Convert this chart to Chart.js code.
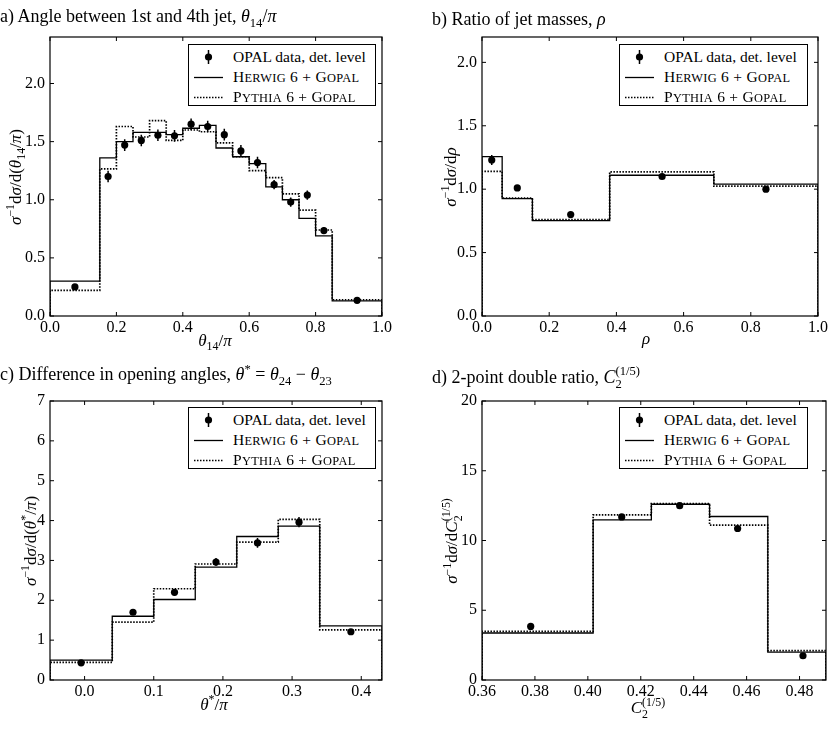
<!DOCTYPE html>
<html><head><meta charset="utf-8">
<script src="https://cdn.jsdelivr.net/npm/chart.js@4.4.1/dist/chart.umd.min.js"></script>
<style>
body{margin:0;background:#fff;}
#wrap{position:relative;width:830px;height:756px;overflow:hidden;font-family:"Liberation Serif",serif;color:#000;}
canvas{position:absolute;}
.t{position:absolute;white-space:nowrap;font-size:18px;line-height:18px;transform:translateY(-50%);}
.xl{position:absolute;white-space:nowrap;font-size:17px;line-height:20px;transform:translate(-50%,-50%);}
.yl{position:absolute;white-space:nowrap;font-size:17px;line-height:20px;transform:translate(-50%,-50%) rotate(-90deg);}
.leg{position:absolute;border:1.2px solid #000;background:#fff;box-sizing:border-box;font-size:15.5px;}
.row{position:absolute;left:0;width:100%;height:20px;line-height:20px;}
.row svg{position:absolute;left:0;top:0;}
.row span{position:absolute;left:44px;white-space:nowrap;}
.row span.sc{letter-spacing:0.3px;}
.row span.sc small{font-size:0.8em;text-transform:uppercase;}
sub,sup{font-size:0.7em;line-height:0;}
.ss{display:inline-block;vertical-align:-0.38em;line-height:1;font-size:0.7em;}
.ss span{display:block;}
</style>
</head><body>
<div id="wrap">
<canvas id="ca" width="415" height="378" style="left:0;top:0"></canvas>
<canvas id="cb" width="415" height="378" style="left:415px;top:0"></canvas>
<canvas id="cc" width="415" height="378" style="left:0;top:378px"></canvas>
<canvas id="cd" width="415" height="378" style="left:415px;top:378px"></canvas>

<div class="t" style="left:0;top:16px">a) Angle between 1st and 4th jet, <i>θ</i><sub>14</sub>/<i>π</i></div>
<div class="t" style="left:432px;top:19px">b) Ratio of jet masses, <i>ρ</i></div>
<div class="t" style="left:0;top:374px">c) Difference in opening angles, <i>θ</i><sup>*</sup> = <i>θ</i><sub>24</sub> − <i>θ</i><sub>23</sub></div>
<div class="t" style="left:432px;top:378px">d) 2-point double ratio, <i>C</i><span class="ss"><span>(1/5)</span><span>2</span></span></div>

<div class="xl" style="left:215px;top:341px"><i>θ</i><sub>14</sub>/<i>π</i></div>
<div class="xl" style="left:646px;top:339px"><i>ρ</i></div>
<div class="xl" style="left:214px;top:705px"><i>θ</i><sup>*</sup>/<i>π</i></div>
<div class="xl" style="left:648px;top:709px"><i>C</i><span class="ss"><span>(1/5)</span><span>2</span></span></div>

<div class="yl" style="left:16px;top:177px"><i>σ</i><sup>−1</sup>d<i>σ</i>/d(<i>θ</i><sub>14</sub>/<i>π</i>)</div>
<div class="yl" style="left:451px;top:177px"><i>σ</i><sup>−1</sup>d<i>σ</i>/d<i>ρ</i></div>
<div class="yl" style="left:31px;top:541px"><i>σ</i><sup>−1</sup>d<i>σ</i>/d(<i>θ</i><sup>*</sup>/<i>π</i>)</div>
<div class="yl" style="left:453px;top:541px"><i>σ</i><sup>−1</sup>d<i>σ</i>/d<i>C</i><span class="ss"><span>(1/5)</span><span>2</span></span></div>
</div>
<script>
// ---------- data ----------
const legendLabels = ["OPAL data, det. level", "Herwig 6 + Gopal", "Pythia 6 + Gopal"];

// a) theta14/pi
const aEdges  = [0, 0.15, 0.2, 0.25, 0.3, 0.35, 0.4, 0.45, 0.5, 0.55, 0.6, 0.65, 0.7, 0.75, 0.8, 0.85, 1.0];
const aHerwig = [0.30, 1.36, 1.50, 1.58, 1.58, 1.56, 1.615, 1.64, 1.445, 1.37, 1.31, 1.11, 1.00, 0.84, 0.69, 0.13];
const aPythia = [0.22, 1.265, 1.63, 1.54, 1.68, 1.51, 1.60, 1.585, 1.49, 1.37, 1.25, 1.19, 1.05, 0.91, 0.74, 0.14];
const aDataX  = [0.075, 0.175, 0.225, 0.275, 0.325, 0.375, 0.425, 0.475, 0.525, 0.575, 0.625, 0.675, 0.725, 0.775, 0.825, 0.925];
const aDataY  = [0.25, 1.20, 1.47, 1.51, 1.555, 1.55, 1.65, 1.63, 1.56, 1.42, 1.32, 1.13, 0.98, 1.04, 0.735, 0.135];
const aDataErr= [0.02, 0.05, 0.05, 0.05, 0.05, 0.05, 0.05, 0.05, 0.05, 0.05, 0.05, 0.04, 0.04, 0.04, 0.03, 0.01];
const aXTicks = [0, 0.2, 0.4, 0.6, 0.8, 1.0];
const aYTicks = [0, 0.5, 1.0, 1.5, 2.0];

// b) rho
const bEdges  = [0, 0.06, 0.15, 0.38, 0.69, 1.0];
const bHerwig = [1.256, 0.926, 0.752, 1.11, 1.04];
const bPythia = [1.14, 0.93, 0.76, 1.137, 1.024];
const bDataX  = [0.029, 0.105, 0.264, 0.536, 0.845];
const bDataY  = [1.23, 1.01, 0.80, 1.10, 1.00];
const bDataErr= [0.04, 0.02, 0.01, 0.01, 0.01];
const bXTicks = [0, 0.2, 0.4, 0.6, 0.8, 1.0];
const bYTicks = [0, 0.5, 1.0, 1.5, 2.0];

// c) theta*/pi
const cEdges  = [-0.05, 0.04, 0.1, 0.16, 0.22, 0.28, 0.34, 0.43];
const cHerwig = [0.50, 1.60, 2.02, 2.83, 3.60, 3.86, 1.36];
const cPythia = [0.44, 1.45, 2.29, 2.91, 3.46, 4.03, 1.26];
const cDataX  = [-0.005, 0.07, 0.13, 0.19, 0.25, 0.31, 0.385];
const cDataY  = [0.43, 1.70, 2.20, 2.96, 3.44, 3.96, 1.21];
const cDataErr= [0.03, 0.06, 0.08, 0.10, 0.12, 0.13, 0.04];
const cXTicks = [0, 0.1, 0.2, 0.3, 0.4];
const cYTicks = [0, 1, 2, 3, 4, 5, 6, 7];

// d) C2^(1/5)
const dEdges  = [0.36, 0.402, 0.424, 0.446, 0.468, 0.49];
const dHerwig = [3.37, 11.48, 12.60, 11.72, 2.00];
const dPythia = [3.48, 11.84, 12.65, 11.10, 2.10];
const dDataX  = [0.3784, 0.4128, 0.4347, 0.4566, 0.4813];
const dDataY  = [3.84, 11.69, 12.50, 10.86, 1.74];
const dDataErr= [0.10, 0.15, 0.15, 0.15, 0.10];
const dXTicks = [0.36, 0.38, 0.40, 0.42, 0.44, 0.46, 0.48];
const dYTicks = [0, 5, 10, 15, 20];

// ---------- plugins ----------
const framePlugin = {
  id: 'frameTicks',
  afterDraw(chart) {
    const {ctx, chartArea: {left, right, top, bottom}, scales: {x, y}} = chart;
    ctx.save();
    ctx.strokeStyle = '#000';
    ctx.lineWidth = 1;
    const tl = 4;
    ctx.beginPath();
    x.ticks.forEach(t => {
      const px = x.getPixelForValue(t.value);
      ctx.moveTo(px, bottom); ctx.lineTo(px, bottom - tl);
      ctx.moveTo(px, top); ctx.lineTo(px, top + tl);
    });
    y.ticks.forEach(t => {
      const py = y.getPixelForValue(t.value);
      ctx.moveTo(left, py); ctx.lineTo(left + tl, py);
      ctx.moveTo(right, py); ctx.lineTo(right - tl, py);
    });
    ctx.stroke();
    ctx.lineWidth = 1.2;
    ctx.strokeRect(left, top, right - left, bottom - top);
    ctx.restore();
  }
};
const errPlugin = {
  id: 'errBars',
  afterDatasetsDraw(chart) {
    const {ctx, scales: {x, y}} = chart;
    chart.data.datasets.forEach(ds => {
      if (!ds.yErr) return;
      ctx.save();
      ctx.strokeStyle = '#000';
      ctx.lineWidth = 1.5;
      ctx.beginPath();
      ds.data.forEach((p, i) => {
        const px = x.getPixelForValue(p.x);
        ctx.moveTo(px, y.getPixelForValue(p.y - ds.yErr[i]));
        ctx.lineTo(px, y.getPixelForValue(p.y + ds.yErr[i]));
      });
      ctx.stroke();
      ctx.restore();
    });
  }
};

function steps(edges, vals) {
  const pts = [{x: edges[0], y: 0}];
  vals.forEach((v, i) => pts.push({x: edges[i], y: v}));
  pts.push({x: edges[edges.length - 1], y: 0});
  return pts;
}

function makeChart(id, p) {
  const font = {family: '"Liberation Serif", serif', size: 16};
  return new Chart(document.getElementById(id), {
    type: 'scatter',
    data: {
      datasets: [
        {label: legendLabels[0], data: p.dx.map((v, i) => ({x: v, y: p.dy[i]})), yErr: p.de,
         pointRadius: 3.6, pointBackgroundColor: '#000', pointBorderColor: '#000', pointBorderWidth: 0, order: 0},
        {label: legendLabels[1], data: steps(p.edges, p.herwig), showLine: true, stepped: true,
         borderColor: '#000', borderWidth: 1.3, pointRadius: 0, order: 2},
        {label: legendLabels[2], data: steps(p.edges, p.pythia), showLine: true, stepped: true,
         borderColor: '#000', borderWidth: 1.7, borderDash: [1.5, 1.5], pointRadius: 0, order: 1}
      ]
    },
    options: {
      responsive: false, animation: false, devicePixelRatio: 1,
      layout: {padding: {left: 0, bottom: 0, top: p.pt, right: p.pr}},
      plugins: {legend: {display: false}, tooltip: {enabled: false}},
      scales: {
        x: {type: 'linear', min: p.xmin, max: p.xmax,
            grid: {display: false, drawTicks: false}, border: {display: false},
            ticks: {color: '#000', font, padding: 2, maxRotation: 0, autoSkip: false,
                    callback: v => v.toFixed(p.xd)},
            afterBuildTicks: s => { s.ticks = p.xt.map(v => ({value: v})); },
            afterFit: s => { s.height = p.xh; }},
        y: {type: 'linear', min: p.ymin, max: p.ymax,
            grid: {display: false, drawTicks: false}, border: {display: false},
            ticks: {color: '#000', font, padding: 5, autoSkip: false,
                    callback: v => v.toFixed(p.yd)},
            afterBuildTicks: s => { s.ticks = p.yt.map(v => ({value: v})); },
            afterFit: s => { s.width = p.yw; }}
      }
    },
    plugins: [errPlugin, framePlugin]
  });
}

makeChart('ca', {edges: aEdges, herwig: aHerwig, pythia: aPythia, dx: aDataX, dy: aDataY, de: aDataErr,
  xmin: 0, xmax: 1, ymin: 0, ymax: 2.4, xt: aXTicks, yt: aYTicks, xd: 1, yd: 1,
  pt: 37, pr: 33, yw: 50, xh: 62});
makeChart('cb', {edges: bEdges, herwig: bHerwig, pythia: bPythia, dx: bDataX, dy: bDataY, de: bDataErr,
  xmin: 0, xmax: 1, ymin: 0, ymax: 2.2, xt: bXTicks, yt: bYTicks, xd: 1, yd: 1,
  pt: 37, pr: 2, yw: 67, xh: 62});
makeChart('cc', {edges: cEdges, herwig: cHerwig, pythia: cPythia, dx: cDataX, dy: cDataY, de: cDataErr,
  xmin: -0.05, xmax: 0.43, ymin: 0, ymax: 7, xt: cXTicks, yt: cYTicks, xd: 1, yd: 0,
  pt: 23, pr: 33, yw: 50, xh: 76});
makeChart('cd', {edges: dEdges, herwig: dHerwig, pythia: dPythia, dx: dDataX, dy: dDataY, de: dDataErr,
  xmin: 0.36, xmax: 0.49, ymin: 0, ymax: 20, xt: dXTicks, yt: dYTicks, xd: 2, yd: 0,
  pt: 23, pr: 2, yw: 67, xh: 76});

// ---------- legends (HTML) ----------
function smallCaps(text) {
  // first letter of each word full size, rest as small capitals (visual only)
  return text.split(' ').map(w => /^[A-Za-z]/.test(w) && w.length > 1
    ? w[0] + '<small>' + w.slice(1) + '</small>' : w).join(' ');
}
function legend(left, top, width) {
  const el = document.createElement('div');
  el.className = 'leg';
  el.style.left = left + 'px'; el.style.top = top + 'px';
  el.style.width = width + 'px'; el.style.height = '62px';
  const marks = [
    '<svg width="40" height="20"><line x1="19.5" y1="3" x2="19.5" y2="17" stroke="#000" stroke-width="1.5"/><circle cx="19.5" cy="10" r="3.6" fill="#000"/></svg>',
    '<svg width="40" height="20"><line x1="5" y1="10.5" x2="34" y2="10.5" stroke="#000" stroke-width="1.3"/></svg>',
    '<svg width="40" height="20"><line x1="5" y1="10.5" x2="34" y2="10.5" stroke="#000" stroke-width="1.7" stroke-dasharray="1.5 1.5"/></svg>'
  ];
  legendLabels.forEach((lab, i) => {
    const r = document.createElement('div');
    r.className = 'row';
    r.style.top = (2 + 20 * i) + 'px';
    r.innerHTML = marks[i];
    const s = document.createElement('span');
    if (i > 0) { s.className = 'sc'; s.innerHTML = smallCaps(lab); }
    else s.textContent = lab;
    r.appendChild(s);
    el.appendChild(r);
  });
  document.getElementById('wrap').appendChild(el);
}
legend(188, 44, 188);
legend(619, 44, 189);
legend(188, 407, 188);
legend(619, 407, 189);
</script>
</body></html>
